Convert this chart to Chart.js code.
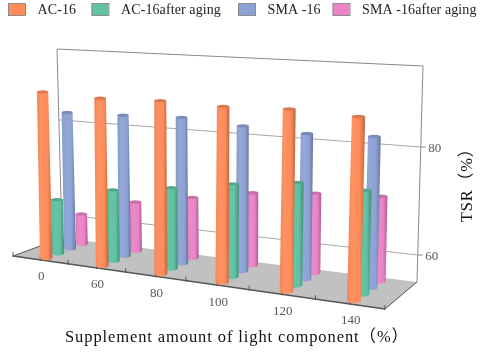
<!DOCTYPE html>
<html><head><meta charset="utf-8">
<style>html,body{margin:0;padding:0;background:#fff}canvas{display:block;filter:blur(0.35px)}</style>
<script src="https://cdn.jsdelivr.net/npm/chart.js@4"></script>
</head><body><canvas id="c" width="480" height="352"></canvas>
<script>
const categories = ['0','60','80','100','120','140'];
const seriesNames = ['AC-16','AC-16after aging','SMA -16','SMA -16after aging'];
const ac16 = [86.9,86.5,86.9,86.7,87.1,86.7];
const ac16Aged = [65.5,68.6,70.2,72.1,73.5,73.3];
const sma16 = [82.4,82.7,83.1,82.4,81.9,82.3];
const sma16Aged = [61.1,64.8,66.9,69.0,70.1,70.7];
const seriesColors = ['#FF8C5A','#5FC2A2','#8DA2D4','#EA84C6'];
const yTicks = [60,80];
const axisMin = 55;
const axisMax = 95;
const xTitle = 'Supplement amount of light component（%）';
const yTitle = 'TSR（%）';

const SERIF = '"Liberation Serif","Noto Sans CJK SC",serif';
// frame of the 3D box
const floor = {fl:[13,256],fr:[385,309],br:[417,282],bl:[62,238]};
const roof  = {fl:[7.5,48],fr:[392,71],br:[423,66],bl:[57,49]};
const persp = -0.131;
const warp = u => (1+persp)*u/(1+persp*u);
const mix = (a,b,t)=>[a[0]+(b[0]-a[0])*t,a[1]+(b[1]-a[1])*t];
function plane(q,u,v){const w=warp(u);return mix(mix(q.fl,q.fr,w),mix(q.bl,q.br,w),v);}
function project(u,v,t){return mix(plane(floor,u,v),plane(roof,u,v),t);}
function shade(hex,f){
  const n=parseInt(hex.slice(1),16);
  const c=[n>>16,(n>>8)&255,n&255].map(x=>f<=1?x*f:x+(255-x)*(f-1));
  return `rgb(${c.map(Math.round).join(',')})`;
}

class CylinderBar extends Chart.BarElement{
  static id='cylinder';
  draw(ctx){
    const {x,y,base}=this.getProps(['x','y','base']);
    const chart=this.chartRef, sx=chart.scales.x, sy=chart.scales.y;
    const j=this.seriesIndex, n=chart.data.datasets.length;
    const u=sx.getDecimalForPixel(x), v=(j+0.5)/n;
    const t=sy.getDecimalForPixel(y), t0=sy.getDecimalForPixel(base);
    const b=project(u,v,t0), p=project(u,v,t);
    const s=(project(u,v,0)[1]-project(u,v,1)[1])/(axisMax-axisMin);
    const rb=1.2*s, rt=rb*(1-0.08*(t-t0)*(1.6-u)), ryb=2.6, ryt=1.7;
    const col=this.options.backgroundColor;
    const g=ctx.createLinearGradient(Math.min(b[0]-rb,p[0]-rt),0,Math.max(b[0]+rb,p[0]+rt),0);
    g.addColorStop(0,shade(col,0.95));g.addColorStop(0.3,shade(col,1.05));
    g.addColorStop(0.7,shade(col,1));g.addColorStop(1,shade(col,0.72));
    ctx.save();
    ctx.fillStyle=g;
    ctx.beginPath();
    ctx.moveTo(p[0]-rt,p[1]);ctx.lineTo(b[0]-rb,b[1]);
    ctx.ellipse(b[0],b[1],rb,ryb,0,Math.PI,0,true);
    ctx.lineTo(p[0]+rt,p[1]);ctx.closePath();ctx.fill();
    ctx.fillStyle=shade(col,0.86);
    ctx.beginPath();ctx.ellipse(p[0],p[1],rt,ryt,0,0,Math.PI*2);ctx.fill();
    ctx.restore();
  }
}
class CylinderController extends Chart.BarController{
  static id='cylinderBar';
  static defaults={...Chart.BarController.defaults,dataElementType:'cylinder'};
  static overrides=Chart.BarController.overrides;
  draw(){
    this._cachedMeta.data.forEach(el=>{el.chartRef=this.chart;el.seriesIndex=this.index;});
    super.draw();
  }
}
Chart.register(CylinderController,CylinderBar);

const line=(ctx,a,b,col,w)=>{ctx.strokeStyle=col;ctx.lineWidth=w;ctx.beginPath();ctx.moveTo(a[0],a[1]);ctx.lineTo(b[0],b[1]);ctx.stroke();};

const box3d={
  id:'box3d',
  beforeDatasetsDraw(chart){
    const ctx=chart.ctx, sy=chart.scales.y;
    ctx.save();
    ctx.fillStyle='#c1c1c1';
    ctx.beginPath();
    [floor.fl,floor.fr,floor.br,floor.bl].forEach((p,i)=>i?ctx.lineTo(p[0],p[1]):ctx.moveTo(p[0],p[1]));
    ctx.closePath();ctx.fill();
    const wall='#8a8a8a';
    line(ctx,floor.bl,roof.bl,wall,1);
    line(ctx,roof.bl,roof.br,wall,1);
    line(ctx,roof.br,floor.br,wall,1);
    sy.ticks.forEach(tk=>{
      const t=sy.getDecimalForPixel(sy.getPixelForValue(tk.value));
      const a=project(0,1,t), b=project(1,1,t);
      line(ctx,a,b,'#a8a8a8',1);
      line(ctx,b,[b[0]+5,b[1]],wall,1);
    });
    const ax='#555555';
    line(ctx,floor.fl,floor.fr,ax,1.3);
    line(ctx,floor.fl,floor.bl,ax,1);
    line(ctx,floor.fr,floor.br,ax,1);
    for(let i=0;i<=categories.length*2;i++){
      const p=project(i/(categories.length*2),0,0);
      line(ctx,[p[0],p[1]-4],[p[0],p[1]+1],ax,1);
    }
    ctx.restore();
  },
  afterDraw(chart){
    const ctx=chart.ctx, sx=chart.scales.x, sy=chart.scales.y;
    ctx.save();
    ctx.textBaseline='middle';ctx.textAlign='center';
    ctx.fillStyle='#5a5a5a';ctx.font='13px '+SERIF;
    sx.getLabels().forEach((lab,i)=>{
      const u=sx.getDecimalForPixel(sx.getPixelForValue(i));
      const p=project(u,0,0);
      ctx.fillText(lab,p[0]+1,p[1]+17);
    });
    sy.ticks.forEach(tk=>{
      const t=sy.getDecimalForPixel(sy.getPixelForValue(tk.value));
      const p=project(1,1,t);
      ctx.fillText(String(tk.value),p[0]+14,p[1]+2);
    });
    const boxX=[8,91.5,238,332.5];
    ctx.textAlign='left';ctx.font='14px '+SERIF;
    ctx.letterSpacing='0.1px';
    chart.data.datasets.forEach((d,i)=>{
      ctx.fillStyle=d.backgroundColor;ctx.fillRect(boxX[i],4,17,11);
      ctx.strokeStyle='#8c8c8c';ctx.lineWidth=1;ctx.strokeRect(boxX[i]+.5,3.5,17,12);
      ctx.fillStyle='#222';ctx.fillText(d.label,boxX[i]+29.5,10);
    });
    ctx.letterSpacing='0.9px';
    ctx.font='16.5px '+SERIF;ctx.fillStyle='#111';ctx.textAlign='left';
    ctx.fillText(xTitle,65,338);
    ctx.translate(468,181);ctx.rotate(-Math.PI/2);ctx.textAlign='center';
    ctx.fillText(yTitle,0,0);
    ctx.restore();
  }
};

const seriesData=[ac16,ac16Aged,sma16,sma16Aged];
new Chart(document.getElementById('c'),{
  type:'cylinderBar',
  data:{labels:categories,datasets:seriesNames.map((name,i)=>({label:name,data:seriesData[i],backgroundColor:seriesColors[i],grouped:false,clip:false,base:axisMin}))},
  options:{
    responsive:false,animation:false,
    layout:{padding:0},
    plugins:{legend:{display:false},tooltip:{enabled:false}},
    scales:{
      x:{display:false},
      y:{display:false,min:axisMin,max:axisMax,afterBuildTicks:s=>{s.ticks=yTicks.map(value=>({value}));}}
    }
  },
  plugins:[box3d]
});
</script></body></html>
